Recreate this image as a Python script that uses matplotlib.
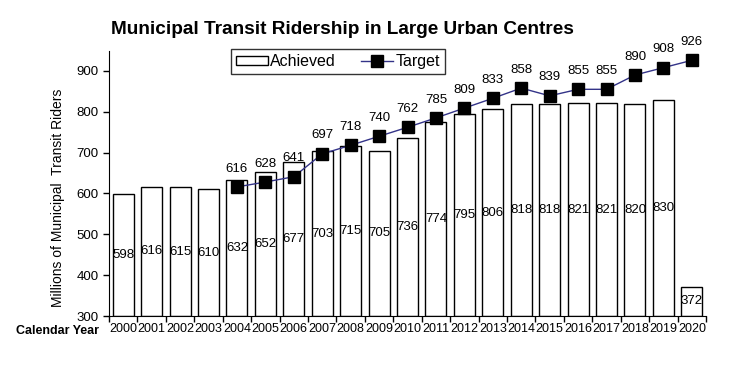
import numpy as np
import matplotlib.pyplot as plt

plt.rcParams['font.family'] = ['Liberation Sans', 'DejaVu Sans']

years = [str(y) for y in range(2000, 2021)]
achieved = [598, 616, 615, 610, 632, 652, 677, 703, 715, 705, 736, 774, 795,
            806, 818, 818, 821, 821, 820, 830, 372]
target_years = [str(y) for y in range(2004, 2021)]
target = [616, 628, 641, 697, 718, 740, 762, 785, 809, 833, 858, 839, 855,
          855, 890, 908, 926]

fig = plt.figure(figsize=(7.38, 3.66), dpi=100)
ax = fig.add_axes([0.1477, 0.1366, 0.809, 0.7254])

x = np.arange(len(years))
base = 300
bars = ax.bar(x, np.array(achieved) - base, bottom=base, width=0.74,
              color='white', edgecolor='black', linewidth=1, label='Achieved', zorder=2)
for xi, v in zip(x, achieved):
    ax.text(xi, (v + base) / 2, str(v), ha='center', va='center', fontsize=9.5, zorder=3)

tx = np.array([years.index(y) for y in target_years])
line, = ax.plot(tx, target, color='#333388', linewidth=1, marker='s', markersize=9,
                markerfacecolor='black', markeredgecolor='black', label='Target', zorder=4)
for xi, v in zip(tx, target):
    ax.text(xi, v + 45, str(v), ha='center', va='center', fontsize=9.5, zorder=5)

ax.set_ylim(300, 950)
ax.set_xlim(-0.5, len(years) - 0.5)
ax.set_yticks(range(300, 1000, 100))
ax.set_xticks(x)
ax.set_xticklabels(years, fontsize=9)
ax.set_xticks(np.arange(-0.5, len(years), 1), minor=True)
ax.tick_params(axis='x', which='major', length=0, pad=5)
ax.tick_params(axis='x', which='minor', length=4, direction='out', width=1)
ax.tick_params(axis='y', length=4, direction='out', labelsize=9.5, width=1)
ax.spines['top'].set_visible(False)
ax.spines['right'].set_visible(False)

fig.text(0.079, 0.459, 'Millions of Municipal  Transit Riders', fontsize=10,
         rotation=90, ha='center', va='center')
fig.text(0.078, 0.095, 'Calendar Year', fontsize=9, fontweight='bold',
         ha='center', va='center')
fig.text(0.4634, 0.907, 'Municipal Transit Ridership in Large Urban Centres',
         fontsize=13.7, fontweight='bold', ha='center', va='baseline')

leg = ax.legend([bars, line], ['Achieved', 'Target'], loc='upper center',
                bbox_to_anchor=(0.3835, 1.006), borderaxespad=0, ncol=2,
                fontsize=11.5, frameon=True, fancybox=False, edgecolor='black',
                handlelength=2.0, handleheight=0.45, handletextpad=0.15,
                columnspacing=1.6, borderpad=0.32)
leg.get_frame().set_linewidth(1)

fig.savefig('out.png', dpi=100)
